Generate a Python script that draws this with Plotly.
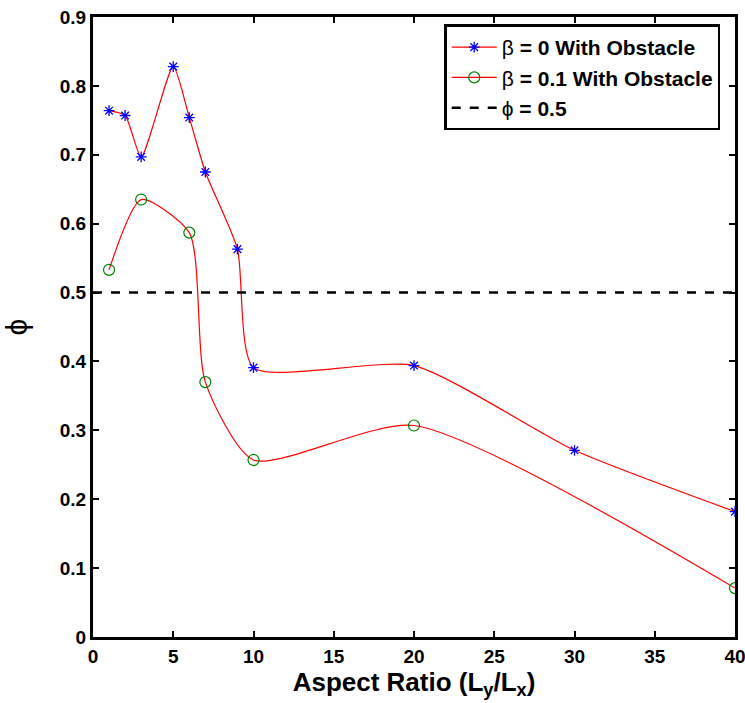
import plotly.graph_objects as go

# Data
ar_b0 = [1, 2, 3, 5, 6, 7, 9, 10, 20, 30, 40]
phi_b0 = [0.764, 0.757, 0.697, 0.828, 0.754, 0.675, 0.563, 0.391, 0.394, 0.271, 0.182]
ar_b01 = [1, 3, 6, 7, 10, 20, 40]
phi_b01 = [0.533, 0.635, 0.587, 0.370, 0.257, 0.307, 0.071]
ref_x = [0, 40]
ref_y = [0.5, 0.5]
xticks = [0, 5, 10, 15, 20, 25, 30, 35, 40]
yticks = [0, 0.1, 0.2, 0.3, 0.4, 0.5, 0.6, 0.7, 0.8, 0.9]

FONT = "Liberation Sans"

fig = go.Figure()
fig.add_trace(go.Scatter(
    x=ar_b0, y=phi_b0, mode="lines+markers",
    name="β<b> = 0 With Obstacle</b>",
    line=dict(color="red", width=1.2, shape="spline", smoothing=0.6),
    marker=dict(symbol="asterisk-open", size=9, color="blue",
                line=dict(color="blue", width=1.3)),
))
fig.add_trace(go.Scatter(
    x=ar_b01, y=phi_b01, mode="lines+markers",
    name="β<b> = 0.1 With Obstacle</b>",
    line=dict(color="red", width=1.2, shape="spline", smoothing=0.65),
    marker=dict(symbol="circle-open", size=11, color="green",
                line=dict(color="green", width=1.2)),
))
fig.add_trace(go.Scatter(
    x=ref_x, y=ref_y, mode="lines",
    name="ϕ<b> = 0.5</b>",
    line=dict(color="black", width=2.5, dash="dash"),
))

axis_common = dict(
    showgrid=False, zeroline=False, showline=True, linecolor="black",
    linewidth=3, mirror="ticks", ticks="inside", ticklen=6, tickwidth=2,
    tickcolor="black", automargin=False, ticklabeloverflow="allow",
    tickfont=dict(family=FONT, size=19, color="black", weight="bold"),
)

fig.update_xaxes(range=[0, 40], tickvals=xticks,
                 title=dict(text="<b>Aspect Ratio (L<sub>y</sub>/L<sub>x</sub>)</b>",
                            font=dict(family=FONT, size=26, color="black"),
                            standoff=0),
                 ticklabelstandoff=0,
                 **axis_common)
fig.update_yaxes(range=[0, 0.9], tickvals=yticks,
                 ticktext=["0", "0.1", "0.2", "0.3", "0.4", "0.5", "0.6", "0.7", "0.8", "0.9"],
                 title=dict(text="ϕ", font=dict(family=FONT, size=30, color="black"),
                            standoff=34),
                 **axis_common)

fig.update_layout(
    width=745, height=703,
    margin=dict(l=93, r=10, t=17, b=66),
    plot_bgcolor="white", paper_bgcolor="white",
    showlegend=True,
    legend=dict(x=0.977, y=0.988, xanchor="right", yanchor="top",
                bgcolor="white", bordercolor="black", borderwidth=2.5,
                font=dict(family=FONT, size=21, color="black"),
                tracegroupgap=0, itemwidth=45),
)

fig.write_html("out.html")
